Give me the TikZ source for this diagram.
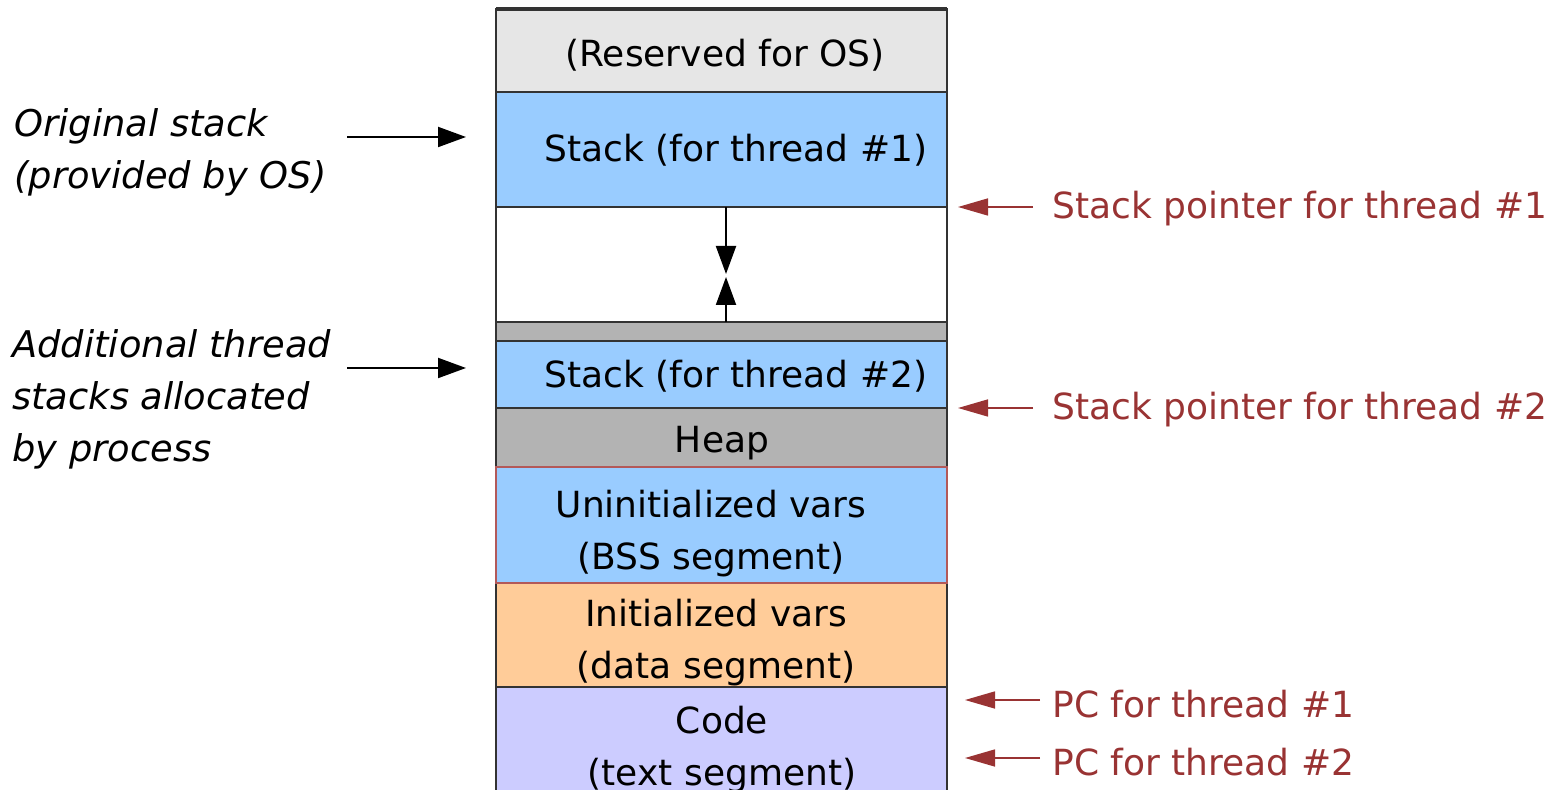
\documentclass[tikz,border=0pt]{standalone}
\usepackage{fontspec}
\setmainfont{DejaVu Sans}
\usetikzlibrary{arrows.meta}
\definecolor{osgrey}{HTML}{E6E6E6}
\definecolor{stackblue}{HTML}{99CCFF}
\definecolor{heapgrey}{HTML}{B3B3B3}
\definecolor{dataorange}{HTML}{FFCC99}
\definecolor{codeviolet}{HTML}{CCCCFF}
\definecolor{ptrred}{HTML}{993333}
\definecolor{bssred}{HTML}{B35959}
\definecolor{edgegrey}{HTML}{333333}
\begin{document}
\begin{tikzpicture}[x=0.5pt,y=-0.5pt,
  seg/.style={draw=edgegrey, line width=1pt, minimum width=225.5pt, inner sep=0pt, outer sep=0pt, anchor=north west},
  txt/.style={inner sep=0pt, anchor=base, align=center, font=\fontsize{18pt}{26pt}\selectfont},
  side/.style={inner sep=0pt, anchor=base west, align=left, font=\fontsize{18.4pt}{26pt}\selectfont\itshape},
  ptr/.style={inner sep=0pt, anchor=base west, text=ptrred, font=\fontsize{18pt}{26pt}\selectfont},
  blkarrow/.style={draw=black, line width=1pt, -{Triangle[length=14pt,width=10pt]}},
  redarrow/.style={draw=ptrred, line width=0.8pt, -{Triangle[length=15pt,width=8.5pt]}}]
\useasboundingbox (0,0) rectangle (1563,790);
% memory segments
\node[seg, fill=osgrey, minimum height=41.5pt] (res) at (496,9) {};
\node[seg, fill=stackblue, minimum height=57.5pt] (st1) at (496,92) {};
\node[seg, fill=white, minimum height=57.5pt] (gap) at (496,207) {};
\node[seg, fill=heapgrey, minimum height=9.5pt] (bar) at (496,322) {};
\node[seg, fill=stackblue, minimum height=33.5pt] (st2) at (496,341) {};
\node[seg, fill=heapgrey, minimum height=29.5pt] (heap) at (496,408) {};
\node[seg, fill=dataorange, minimum height=52pt] (data) at (496,583) {};
\node[seg, fill=codeviolet, minimum height=60pt] (code) at (496,687) {};
\node[seg, draw=bssred, fill=stackblue, minimum height=58pt] (bss) at (496,467) {};
\draw[edgegrey, line width=1.6pt] (res.north west) -- (res.north east);
% segment texts (base anchor = baseline of the last line)
\node[txt] (tres) at (725,67) {(Reserved for OS)};
\node[txt] (tst1) at (736,162) {Stack (for thread \#1)};
\node[txt] (tst2) at (736,388) {Stack (for thread \#2)};
\node[txt] (theap) at (722,453) {Heap};
\node[txt] (tbss) at (711,570) {Uninitialized vars\\(BSS segment)};
\node[txt] (tdata) at (716,678) {Initialized vars\\(data segment)};
\node[txt] (tcode) at (722,785) {Code\\(text segment)};
% growth arrows
\coordinate (meetdown) at (726,274);
\coordinate (meetup) at (726,277);
\draw[blkarrow] (gap.north -| meetdown) -- (meetdown);
\draw[blkarrow] (bar.north -| meetup) -- (meetup);
% left labels
\node[side] (orig) at (14,189) {Original stack\\(provided by OS)};
\node[side] (addl) at (12,462) {Additional thread\\stacks allocated\\by process};
\coordinate (o1) at (347,137);
\coordinate (o2) at (466,137);
\coordinate (a1) at (347,368);
\coordinate (a2) at (466,368);
\draw[blkarrow] (o1) -- (o2);
\draw[blkarrow] (a1) -- (a2);
% right labels
\node[ptr] (sp1) at (1052,219) {Stack pointer for thread \#1};
\node[ptr] (sp2) at (1052,420) {Stack pointer for thread \#2};
\node[ptr] (pc1) at (1052,717) {PC for thread \#1};
\node[ptr] (pc2) at (1052,775) {PC for thread \#2};
\coordinate (s1a) at (1033,207);
\coordinate (s1b) at (958,207);
\coordinate (s2a) at (1033,408);
\coordinate (s2b) at (958,408);
\coordinate (p1a) at (1040,700);
\coordinate (p1b) at (965,700);
\coordinate (p2a) at (1040,758);
\coordinate (p2b) at (965,758);
\draw[redarrow] (s1a) -- (s1b);
\draw[redarrow] (s2a) -- (s2b);
\draw[redarrow] (p1a) -- (p1b);
\draw[redarrow] (p2a) -- (p2b);
\end{tikzpicture}
\end{document}
